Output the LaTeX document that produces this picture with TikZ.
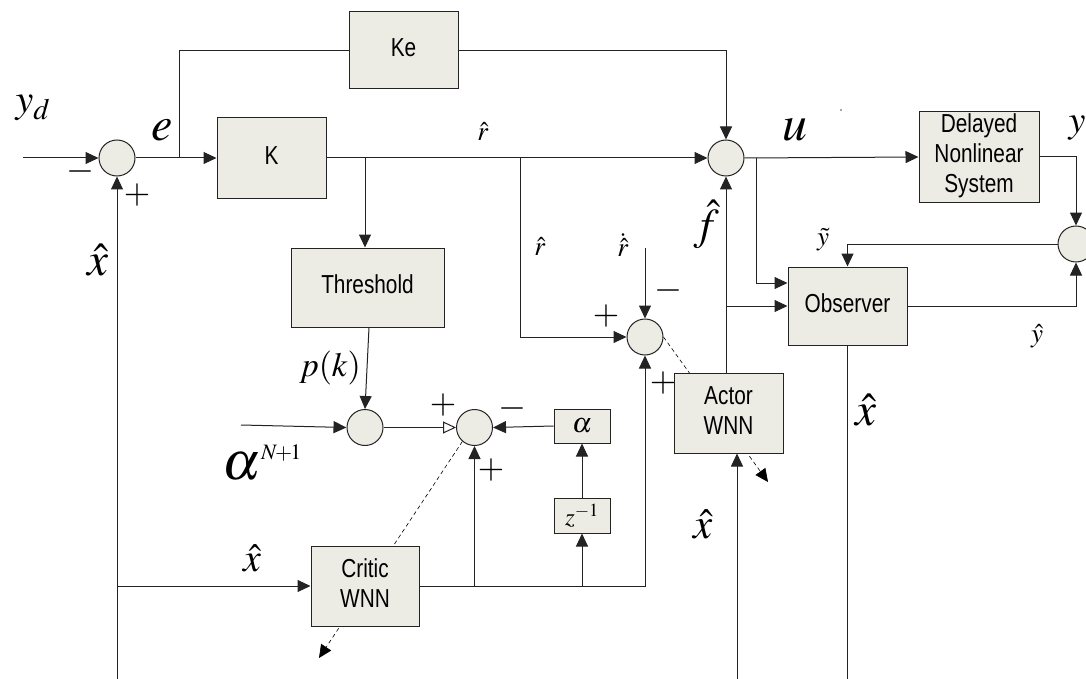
\documentclass[tikz,border=0pt]{standalone}
\usepackage{mathptmx}
\usepackage[no-math]{fontspec}
\newfontfamily\arial{Liberation Sans}
\usepackage{graphicx}
\usetikzlibrary{arrows.meta,backgrounds}
\definecolor{boxfill}{RGB}{236,236,228}
\definecolor{linecol}{RGB}{35,35,35}
\newcommand\fsz[1]{\fontsize{#1}{#1}\selectfont}
\newcommand\btxt[1]{\scalebox{0.8}[1]{\begin{tabular}{@{}c@{}}#1\end{tabular}}}
\begin{document}
\begin{tikzpicture}[x=1pt,y=-1pt,
  box/.style={draw=linecol, fill=boxfill, line width=1pt, inner sep=0pt, font=\arial\fontsize{26}{30}\selectfont},
  sum/.style={circle, draw=linecol, fill=boxfill, line width=1pt, minimum size=36pt, inner sep=0pt},
  arr/.style={draw=linecol, line width=1pt, -{Triangle[length=13pt,width=12pt]}},
  ln/.style={draw=linecol, line width=1pt},
  darr/.style={draw=black, line width=0.6pt, dash pattern=on 4pt off 3pt, -{Triangle[length=13pt,width=12pt]}},
  oarr/.style={draw=linecol, line width=1pt, -{Triangle[open,fill=white,length=13pt,width=12pt]}},
  lbl/.style={inner sep=0pt}
]
\useasboundingbox (0,0) rectangle (1086,679);

% blocks
\node[box, minimum width=109pt, minimum height=77pt] (Ke) at (403.5,50.5) {\btxt{Ke}};
\node[box, minimum width=109pt, minimum height=80pt] (K) at (271.5,158) {\btxt{K}};
\node[box, minimum width=153pt, minimum height=79pt] (Th) at (367.5,287.5) {\btxt{Threshold}};
\node[box, minimum width=120pt, minimum height=80pt] (Dl) at (979,157) {\btxt{Delayed\\Nonlinear\\System}};
\node[box, minimum width=119pt, minimum height=78pt] (Obs) at (847.5,306) {\btxt{Observer}};
\node[box, minimum width=109pt, minimum height=80pt] (Act) at (728.5,413) {\btxt{Actor\\WNN}};
\node[box, minimum width=108pt, minimum height=80pt] (Cr) at (365,586) {\btxt{Critic\\WNN}};
\node[box, minimum width=56pt, minimum height=34pt, font=\fsz{28}] (al) at (582,426) {$\alpha$};
\node[box, minimum width=56pt, minimum height=35pt, font=\fsz{25}] (z) at (582,515.5) {$z^{-1}$};

% summing junctions
\node[sum] (s1) at (117,158) {};
\node[sum] (s2) at (726,158) {};
\node[sum] (s3) at (645,337) {};
\node[sum] (s4) at (1076,244) {};
\node[sum] (s5) at (365,427.5) {};
\node[sum] (s6) at (474.5,427.5) {};

% dashed arrows behind blocks
\coordinate (d1e) at (768,482);
\coordinate (d2e) at (319,658);
\begin{scope}[on background layer]
\draw[darr] (s3.east) -- (d1e);
\draw[darr] (s6.229) -- (d2e);
\end{scope}

% coordinates
\coordinate (in1) at (23,158);
\coordinate (eb) at (179,158);
\coordinate (b1) at (365,158);
\coordinate (b2) at (520,158);
\coordinate (rd) at (645,248);
\coordinate (fb) at (726,306);
\coordinate (ub) at (756,158);
\coordinate (ob) at (847.5,679);
\coordinate (ab) at (737,679);
\coordinate (ain) at (241,425);
\coordinate (xl) at (117,586);
\coordinate (lb) at (117,679);

% connectors
\draw[arr] (in1) -- (s1.west);
\draw[arr] (s1.east) -- (K.west);
\draw[ln] (eb) |- (Ke.west);
\draw[arr] (Ke.east) -| (s2.north);
\draw[arr] (K.east) -- (s2.west);
\draw[arr] (b1) -- (b1 |- Th.north);
\draw[arr] (b2) |- (s3.west);
\draw[arr] (rd) -- (s3.north);
\draw[arr] (s2 |- Act.north) -- (s2.south);
\draw[arr] (fb) -- (Obs.west);
\draw[arr] (ub) |- ([yshift=23pt]Obs.west);
\draw[arr] (s2.east) -- (Dl.west);
\draw[arr] (Dl.east) -| (s4.north);
\draw[arr] (s4.west) -| (Obs.north);
\draw[arr] (Obs.east) -| (s4.south);
\draw[ln] (Obs.south) -- (ob);
\draw[arr] (ab) -- (ab |- Act.south);
\draw[arr] ([xshift=1.5pt]Th.south) -- (s5.north);
\draw[arr] (ain) -- (s5.west);
\draw[oarr] (s5.east) -- (s6.west);
\draw[arr] (al.west) -- (s6.east);
\draw[arr] (z.north) -- (al.south);
\draw[arr] (xl) -- (Cr.west);
\draw[arr] (lb) -- (s1.south);
\draw[arr] (Cr.east) -| (s3.south);
\draw[arr] (s6 |- Cr.east) -- (s6.south);
\draw[arr] (z |- Cr.east) -- (z.south);

% labels
\node[lbl, font=\fsz{40}] (lyd) at (33,108) {$y_d$};
\node[lbl, font=\fsz{36}] (lm1) at (80,172) {$-$};
\node[lbl, font=\fsz{34}] (lp1) at (137,195) {$+$};
\node[lbl, font=\fsz{48}] (le) at (162,130) {$e$};
\node[lbl, font=\fsz{47}] (lx1) at (98,260) {$\hat{x}$};
\node[lbl, font=\fsz{27}] (lr1) at (483,131) {$\hat{r}$};
\node[lbl, font=\fsz{50}] (lu) at (795,130) {$u$};
\node[lbl, font=\fsz{38}] (ly) at (1077,128) {$y$};
\node[lbl, font=\fsz{27}] (lr2) at (540,246) {$\hat{r}$};
\node[lbl, font=\fsz{27}] (lrd) at (623,245) {$\dot{\hat{r}}$};
\node[lbl, font=\fsz{44}] (lf) at (707,224) {$\hat{f}$};
\node[lbl, font=\fsz{36}] (lm2) at (668,290) {$-$};
\node[lbl, font=\fsz{34}] (lp2) at (606,316) {$+$};
\node[lbl, font=\fsz{27}] (lyt) at (823,240) {$\tilde{y}$};
\node[lbl, font=\fsz{27}] (lyh) at (1037,336) {$\hat{y}$};
\node[lbl, font=\fsz{47}] (lx2) at (866,410) {$\hat{x}$};
\node[lbl, font=\fsz{34}] (lp3) at (663,383) {$+$};
\node[lbl, font=\fsz{43}] (lx3) at (703,524) {$\hat{x}$};
\node[lbl, font=\fsz{34}] (lpk) at (330,368) {$p(k)$};
\node[lbl] (lan) at (262,463) {\fsz{54}$\alpha$\fsz{22}\raisebox{20pt}{$N\!\!+\!\!1$}};
\node[lbl, font=\fsz{34}] (lp4) at (443,405) {$+$};
\node[lbl, font=\fsz{36}] (lm3) at (512,408) {$-$};
\node[lbl, font=\fsz{34}] (lp5) at (491,470) {$+$};
\node[lbl, font=\fsz{40}] (lx4) at (252,558) {$\hat{x}$};
\fill[gray!70] (840,109) rectangle (842,111);
\end{tikzpicture}
\end{document}
